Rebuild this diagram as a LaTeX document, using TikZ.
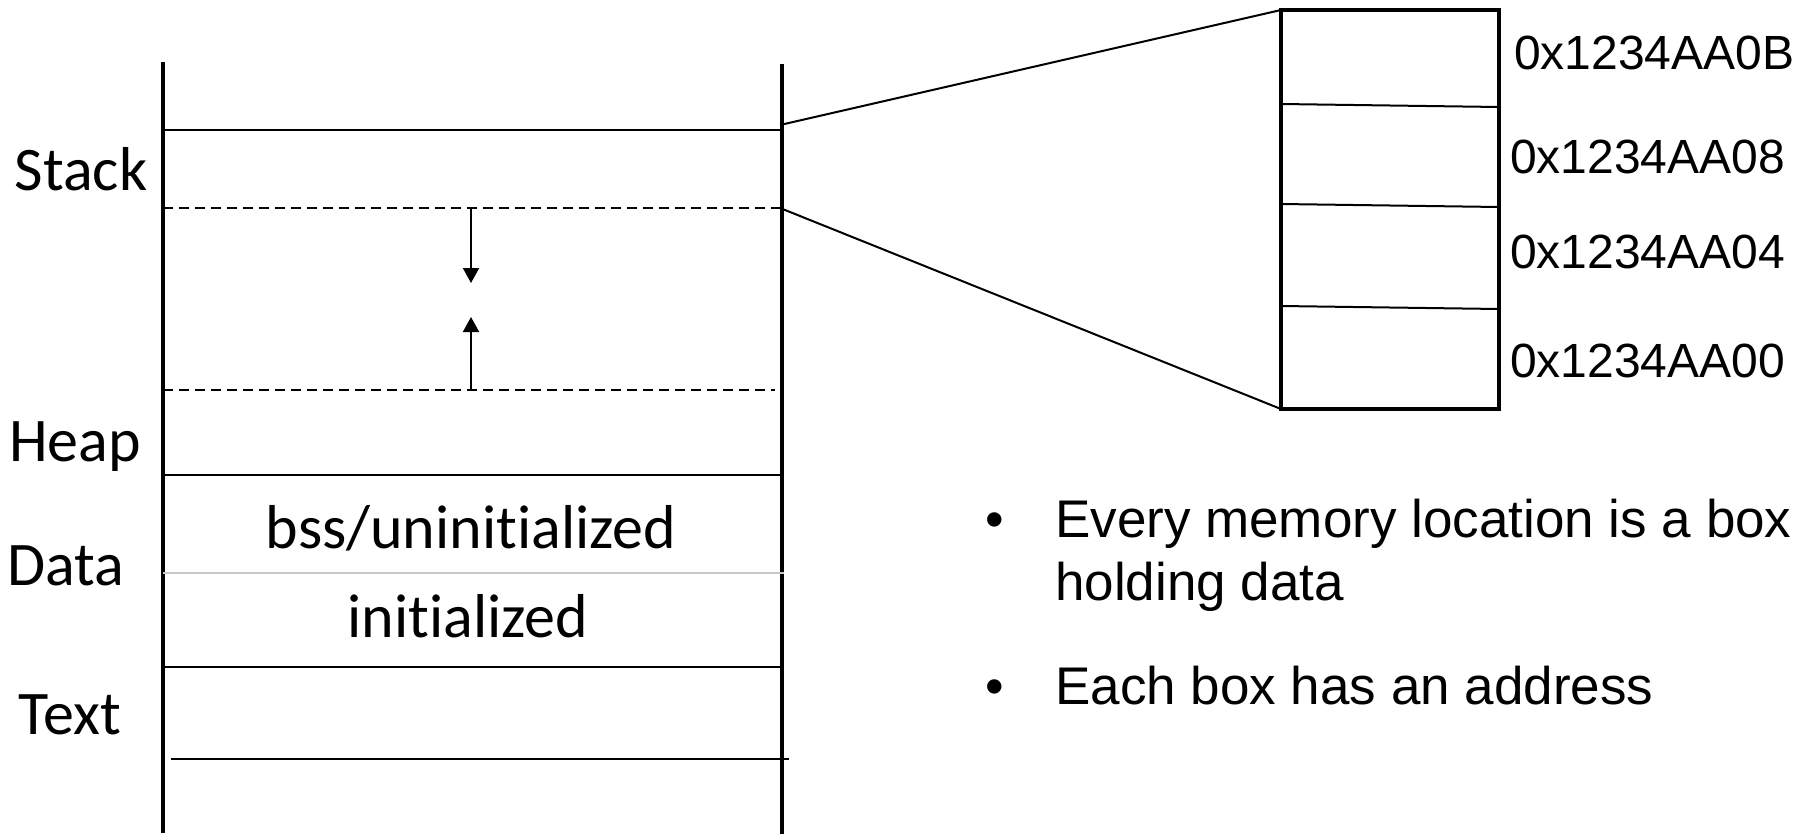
\documentclass[tikz,border=0pt]{standalone}
\usepackage{fontspec}
\setmainfont{Carlito}
\newfontfamily\arialf{Liberation Sans}
\usetikzlibrary{arrows.meta}
\newcommand{\nolg}{\kern0pt{}}
\tikzset{
  colwall/.style={line width=3.2pt},
  sepline/.style={line width=2.6pt},
  dsepline/.style={line width=2.4pt, dash pattern=on 10pt off 6pt},
  growarrow/.style={line width=2pt, -{Triangle[length=15pt,width=16pt]}},
  zoomline/.style={line width=2pt},
  cellline/.style={line width=2pt},
  seglabel/.style={inner sep=0pt, anchor=base, font=\fontsize{62}{74}\selectfont},
  addrlabel/.style={inner sep=0pt, anchor=base west, font=\arialf\fontsize{48}{56}\selectfont},
  bullettext/.style={inner sep=0pt, anchor=base west, align=left, font=\arialf\fontsize{53}{63}\selectfont},
}
\begin{document}
\begin{tikzpicture}[x=1pt,y=-1pt]
\useasboundingbox (0,0) rectangle (1798,835);
% column walls
\coordinate (LT) at (163,62);
\coordinate (LB) at (163,833);
\coordinate (RT) at (782,64);
\coordinate (RB) at (782,834);
\draw[colwall] (LT) -- (LB);
\draw[colwall] (RT) -- (RB);
% separators
\coordinate (s1a) at (163,130); \coordinate (s1b) at (781,130);
\coordinate (d1a) at (163,208); \coordinate (d1b) at (781,208);
\coordinate (d2a) at (163,390); \coordinate (d2b) at (775,390);
\coordinate (s2a) at (163,475); \coordinate (s2b) at (781,475);
\coordinate (g1a) at (163,573); \coordinate (g1b) at (784,573);
\coordinate (s3a) at (163,667); \coordinate (s3b) at (781,667);
\coordinate (s4a) at (171,759); \coordinate (s4b) at (789,759);
\draw[sepline] (s1a) -- (s1b);
\draw[dsepline] (d1a) -- (d1b);
\draw[dsepline] (d2a) -- (d2b);
\draw[sepline] (s2a) -- (s2b);
\draw[line width=2.4pt, color=black!22] (g1a) -- (g1b);
\draw[sepline] (s3a) -- (s3b);
\draw[sepline] (s4a) -- (s4b);
% growth arrows
\coordinate (a1s) at (471,208); \coordinate (a1e) at (471,283);
\coordinate (a2s) at (471,390); \coordinate (a2e) at (471,317);
\draw[growarrow] (a1s) -- (a1e);
\draw[growarrow] (a2s) -- (a2e);
% segment labels
\node[seglabel] (stack) at (81,190) {Stack};
\node[seglabel] (heap) at (75,461) {Heap};
\node[seglabel] (data) at (66,585) {Data};
\node[seglabel] (textseg) at (70,734) {Text};
\node[seglabel] (bss) at (471,548) {bss/uninit\nolg ialized};
\node[seglabel] (init) at (468,637) {init\nolg ialized};
% magnified box
\coordinate (BTL) at (1281,10);
\coordinate (BBR) at (1499,409);
\coordinate (BBL) at (1281,409);
\draw[line width=4.5pt, line join=miter] (BTL) rectangle (BBR);
\coordinate (c1l) at (1281,104); \coordinate (c1r) at (1499,107);
\coordinate (c2l) at (1281,204); \coordinate (c2r) at (1499,207);
\coordinate (c3l) at (1281,306); \coordinate (c3r) at (1499,309);
\draw[cellline] (c1l) -- (c1r);
\draw[cellline] (c2l) -- (c2r);
\draw[cellline] (c3l) -- (c3r);
% zoom lines
\coordinate (z1) at (780,125);
\coordinate (z2) at (780,208);
\draw[zoomline] (z1) -- (BTL);
\draw[zoomline] (z2) -- (BBL);
% addresses
\node[addrlabel] (a0B) at (1514,69) {0x1234AA0B};
\node[addrlabel] (a08) at (1510,173) {0x1234AA08};
\node[addrlabel] (a04) at (1510,268) {0x1234AA04};
\node[addrlabel] (a00) at (1510,377) {0x1234AA00};
% bullets
\node[bullettext] (b1dot) at (985,537) {•};
\node[bullettext] (b1) at (1055,600) {Every memory location is a box\\holding data};
\node[bullettext] (b2dot) at (985,704) {•};
\node[bullettext] (b2) at (1055,704) {Each box has an address};
\end{tikzpicture}
\end{document}
